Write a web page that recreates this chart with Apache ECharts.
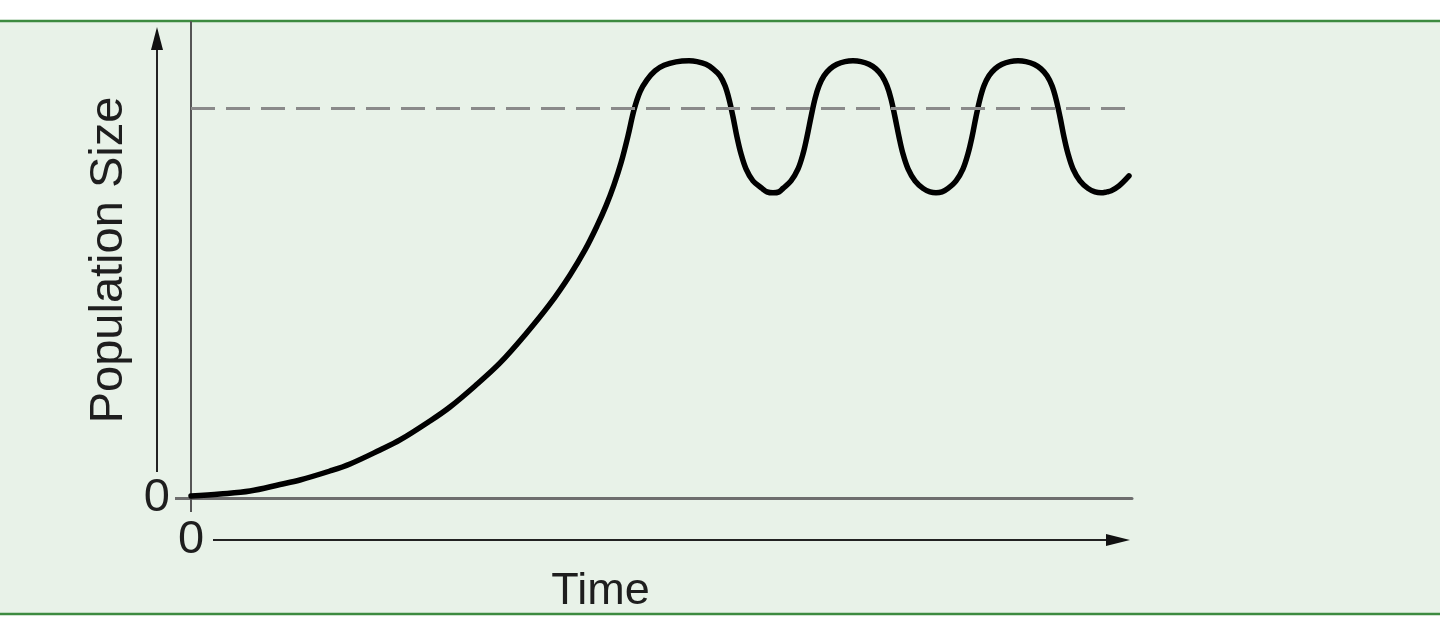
<!DOCTYPE html>
<html><head><meta charset="utf-8">
<script src="https://cdn.jsdelivr.net/npm/echarts@6/dist/echarts.min.js"></script>
<style>html,body{margin:0;padding:0;background:#fff}#c{width:1440px;height:640px}</style>
</head><body><div id="c"></div>
<script>
// Time (arbitrary units, 0-100)
const timeValues = [0, 3.08, 6.27, 9.46, 11.58, 14.77, 16.90, 20.09, 22.21, 25.40, 27.52, 30.18, 32.84, 35.49, 38.15,
  40.28, 41.87, 43.15, 44.10, 44.95, 45.70, 46.44, 47.08, 47.71, 48.46, 49.31, 50.27, 51.54, 52.92,
  53.77, 54.73, 55.47, 56.22, 56.75, 57.17, 57.60, 58.02, 58.45, 58.98, 59.72, 60.68, 61.21, 61.85, 62.49,
  62.91, 63.76, 64.51, 65.04, 65.46, 65.89, 66.31, 66.74, 67.27, 67.91, 68.65, 69.50, 70.35,
  71.20, 72.05, 72.79, 73.43, 73.96, 74.39, 74.81, 75.24, 75.66, 76.20, 76.94, 77.79, 78.53, 79.17, 79.81,
  80.45, 81.30, 82.04, 82.57, 83.00, 83.42, 83.85, 84.27, 84.80, 85.44, 86.18, 87.04, 87.89,
  88.73, 89.59, 90.33, 90.97, 91.50, 91.92, 92.35, 92.77, 93.20, 93.73, 94.47, 95.32, 96.07, 96.71, 97.34,
  97.77, 98.62, 99.68];
// Population size (carrying capacity = 100)
const populationValues = [0.51, 1.03, 1.79, 3.46, 4.62, 6.92, 8.72, 12.31, 14.87, 19.74, 23.33, 28.72, 34.62, 41.79, 49.74,
  57.18, 63.59, 69.74, 74.87, 80.26, 85.90, 92.82, 99.49, 104.10, 107.18, 109.49, 110.90, 111.79, 112.05,
  111.85, 111.15, 110.00, 108.21, 105.64, 102.31, 97.69, 92.56, 88.21, 84.36, 81.28, 79.36, 78.46, 78.21, 78.46,
  79.36, 81.28, 84.36, 88.21, 92.56, 97.69, 102.31, 105.64, 108.21, 110.00, 111.15, 111.85, 112.05,
  111.85, 111.15, 110.00, 108.21, 105.64, 102.31, 97.69, 92.56, 88.21, 84.36, 81.28, 79.36, 78.46, 78.21, 78.46,
  79.36, 81.28, 84.36, 88.21, 92.56, 97.69, 102.31, 105.64, 108.21, 110.00, 111.15, 111.85, 112.05,
  111.85, 111.15, 110.00, 108.21, 105.64, 102.31, 97.69, 92.56, 88.21, 84.36, 81.28, 79.36, 78.46, 78.21, 78.46,
  78.72, 80.00, 82.56];
const carryingCapacity = [100];
const xTickValues = [0];
const yTickValues = [0];
const xAxisName = 'Time';
const yAxisName = 'Population Size';

const seriesData = timeValues.map((t, i) => [t, populationValues[i]]);
const FONT = '"Liberation Sans", Arial, Helvetica, sans-serif';

const chart = echarts.init(document.getElementById('c'), null, {renderer: 'canvas'});
chart.setOption({
  animation: false,
  backgroundColor: '#ffffff',
  grid: {left: 191, right: 308, top: 22, bottom: 142, outerBoundsMode: 'none', containLabel: false},
  xAxis: {
    type: 'value', min: 0, max: 100,
    splitLine: {show: false},
    axisLine: {show: true, lineStyle: {color: '#6e6e6e', width: 3}},
    axisTick: {show: true, customValues: xTickValues, length: 14, lineStyle: {color: '#555', width: 2}},
    axisLabel: {show: true, customValues: xTickValues, margin: 19, fontSize: 47, color: '#1e1e1e', fontFamily: FONT},
    name: xAxisName, nameLocation: 'middle', nameGap: 60,
    nameTextStyle: {fontSize: 45, color: '#1e1e1e', fontFamily: FONT, padding: [0, 122, 0, 0]}
  },
  yAxis: {
    type: 'value', min: 0, max: 122,
    splitLine: {show: false},
    axisLine: {show: true, lineStyle: {color: '#555', width: 2}},
    axisTick: {show: true, customValues: yTickValues, length: 16, lineStyle: {color: '#6e6e6e', width: 3}},
    axisLabel: {show: true, customValues: yTickValues, margin: 21, fontSize: 47, color: '#1e1e1e', fontFamily: FONT, verticalAlign: 'middle', lineHeight: 56},
    name: yAxisName, nameLocation: 'middle', nameRotate: 90, nameGap: 58,
    nameTextStyle: {fontSize: 47, color: '#1e1e1e', fontFamily: FONT}
  },
  graphic: {elements: [
    {type: 'rect', z: -10, silent: true, shape: {x: 0, y: 21, width: 1440, height: 592}, style: {fill: '#e8f2e8'}},
    {type: 'line', z: -9, silent: true, shape: {x1: 0, y1: 21, x2: 1440, y2: 21}, style: {stroke: '#3d8b40', lineWidth: 2.5}},
    {type: 'line', z: -9, silent: true, shape: {x1: 0, y1: 614, x2: 1440, y2: 614}, style: {stroke: '#3d8b40', lineWidth: 2.5}},
    // y arrow
    {type: 'line', silent: true, shape: {x1: 157, y1: 472, x2: 157, y2: 45}, style: {stroke: '#222', lineWidth: 2}},
    {type: 'polygon', silent: true, shape: {points: [[157, 27], [151, 50], [163, 50]]}, style: {fill: '#111'}},
    // x arrow
    {type: 'line', silent: true, shape: {x1: 213, y1: 540, x2: 1112, y2: 540}, style: {stroke: '#222', lineWidth: 2}},
    {type: 'polygon', silent: true, shape: {points: [[1130, 540], [1106, 534], [1106, 546]]}, style: {fill: '#111'}}
  ]},
  series: [{
    type: 'line',
    data: seriesData,
    showSymbol: false,
    smooth: 0.35,
    z: 3,
    lineStyle: {color: '#000', width: 5.5, cap: 'round', join: 'round'},
    markLine: {
      silent: true,
      symbol: ['none', 'none'],
      label: {show: false},
      lineStyle: {color: '#8a8a8a', width: 3, type: [24, 11]},
      data: [{yAxis: carryingCapacity[0]}]
    }
  }]
});
</script></body></html>
